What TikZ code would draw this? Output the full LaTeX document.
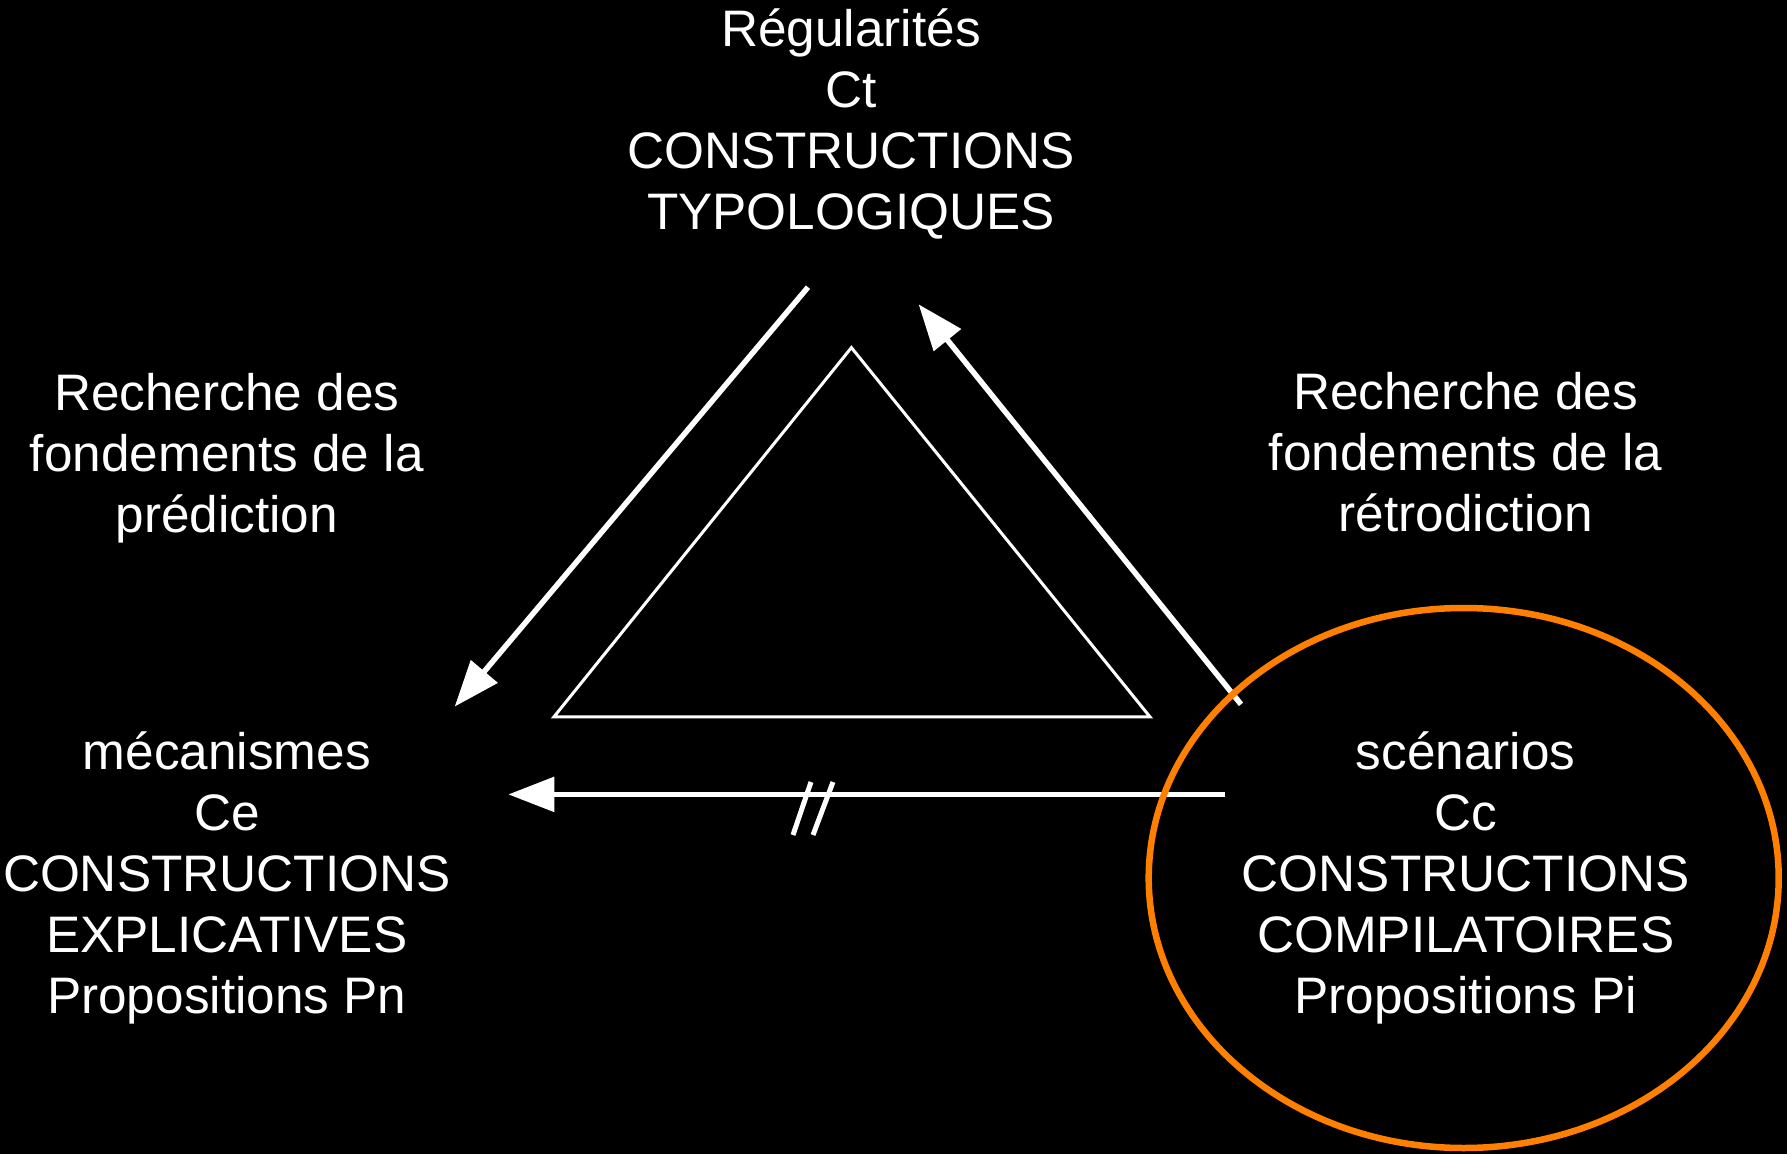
\documentclass[tikz,border=0pt]{standalone}
\usepackage{fontspec}
\setmainfont{Liberation Sans}
\usepackage{xcolor}
\usetikzlibrary{shapes,arrows.meta,positioning}
\definecolor{cercle}{RGB}{255,127,0}

\begin{document}
\begin{tikzpicture}[
    txt/.style={text=white, align=center, font=\fontsize{14.6}{17.4}\selectfont, inner sep=0pt},
    arrow/.style={-{Triangle[length=0.46cm, width=0.34cm]}, white, line width=0.055cm},
    tri/.style={white, line width=0.03cm, line join=miter}
]
\fill[black] (0,0) rectangle (17.87,11.54);
\useasboundingbox (0,0) rectangle (17.87,11.54);

\node[txt] (reg) at (8.51,10.30) {Régularités\\Ct\\CONSTRUCTIONS\\TYPOLOGIQUES};
\node[txt] (pred) at (2.268,6.955) {Recherche des\\fondements de la\\prédiction};
\node[txt] (retro) at (14.657,7.015) {Recherche des\\fondements de la\\rétrodiction};
\node[txt] (meca) at (2.268,2.76) {mécanismes\\Ce\\CONSTRUCTIONS\\EXPLICATIVES\\Propositions Pn};
\node[txt] (scen) at (14.657,2.76) {scénarios\\Cc\\CONSTRUCTIONS\\COMPILATOIRES\\Propositions Pi};

% triangle
\coordinate (t1) at (8.514,8.064);
\coordinate (t2) at (5.539,4.371);
\coordinate (t3) at (11.50,4.371);
\draw[tri] (t1) -- (t2) -- (t3) -- cycle;

% fleches
\coordinate (a1) at (8.08,8.668);
\coordinate (a2) at (4.547,4.474);
\coordinate (b1) at (12.41,4.497);
\coordinate (b2) at (9.186,8.497);
\coordinate (c1) at (12.25,3.596);
\coordinate (c2) at (5.083,3.596);
\draw[arrow] (a1) -- (a2);
\draw[arrow] (b1) -- (b2);
\draw[arrow] (c1) -- (c2);

% coupure
\coordinate (s1) at (7.93,3.19);
\coordinate (s2) at (8.11,3.72);
\coordinate (s3) at (8.13,3.19);
\coordinate (s4) at (8.33,3.72);
\draw[white, line width=0.05cm] (s1) -- (s2);
\draw[white, line width=0.05cm] (s3) -- (s4);

\draw[cercle, line width=0.065cm] (scen.center) ++(-0.02,0.0) ellipse [x radius=3.15cm, y radius=2.70cm];
\end{tikzpicture}
\end{document}
